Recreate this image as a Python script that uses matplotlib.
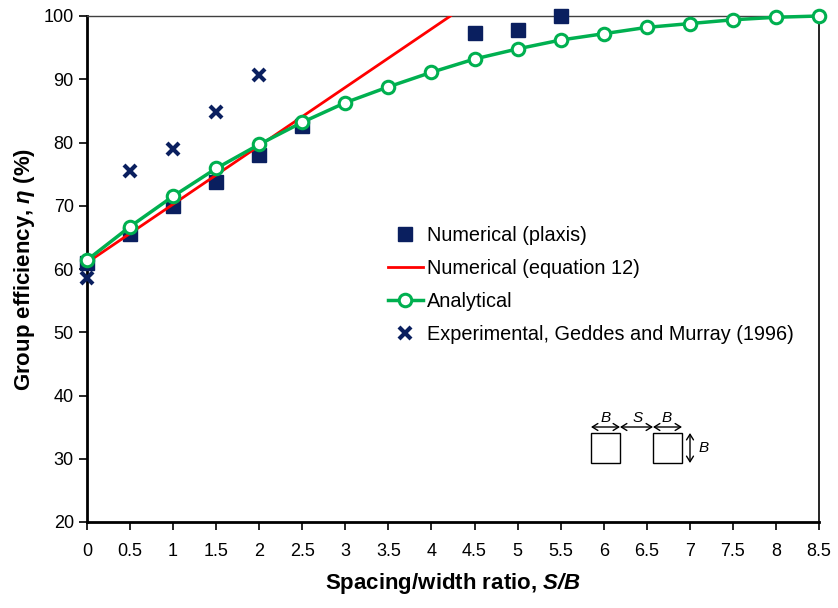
import matplotlib
matplotlib.use("Agg")
import matplotlib.pyplot as plt
from matplotlib.patches import Rectangle, FancyArrowPatch

plt.rcParams['font.family'] = ['Liberation Sans', 'DejaVu Sans']
plt.rcParams['mathtext.fontset'] = 'custom'
plt.rcParams['mathtext.rm'] = 'Liberation Sans'
plt.rcParams['mathtext.it'] = 'Liberation Sans:italic'
plt.rcParams['mathtext.bf'] = 'Liberation Sans:bold'
plt.rcParams['mathtext.bfit'] = 'Liberation Sans:bold:italic'

# Data
plaxis_x = [0, 0.5, 1, 1.5, 2, 2.5, 4.5, 5, 5.5]
plaxis_y = [60.9, 65.6, 69.9, 73.8, 78.0, 82.6, 97.3, 97.8, 100.0]

eq12_x = [0, 2.5, 4.22]
eq12_y = [61.0, 84.1, 100.0]

anal_x = [0, 0.5, 1, 1.5, 2, 2.5, 3, 3.5, 4, 4.5, 5, 5.5, 6, 6.5, 7, 7.5, 8, 8.5]
anal_y = [61.4, 66.7, 71.5, 75.9, 79.7, 83.2, 86.3, 88.8, 91.1, 93.2, 94.8, 96.2, 97.2, 98.2, 98.8, 99.4, 99.8, 100.0]

exp_x = [0, 0.5, 1, 1.5, 2]
exp_y = [58.5, 75.5, 78.9, 84.8, 90.6]

xticks = [0, 0.5, 1, 1.5, 2, 2.5, 3, 3.5, 4, 4.5, 5, 5.5, 6, 6.5, 7, 7.5, 8, 8.5]
xticklabels = ['0', '0.5', '1', '1.5', '2', '2.5', '3', '3.5', '4', '4.5', '5', '5.5', '6', '6.5', '7', '7.5', '8', '8.5']
yticks = [20, 30, 40, 50, 60, 70, 80, 90, 100]

W, H = 838, 608
fig = plt.figure(figsize=(W/100, H/100), dpi=100)
ax = fig.add_axes([87/W, 1-522/H, (819-87)/W, (522-16)/H])

navy = '#0A1F5F'
green = '#00B050'

ax.plot(plaxis_x, plaxis_y, linestyle='none', marker='s', markersize=9.5,
        color=navy, label='Numerical (plaxis)', zorder=3, clip_on=False)
ax.plot(eq12_x, eq12_y, color='#FF0000', linewidth=2, label='Numerical (equation 12)', zorder=4)
ax.plot(anal_x, anal_y, color=green, linewidth=2.5, marker='o', markersize=9,
        markerfacecolor='white', markeredgecolor=green, markeredgewidth=2.2,
        label='Analytical', zorder=5, clip_on=False)
ax.plot(exp_x, exp_y, linestyle='none', marker='x', markersize=9, markeredgewidth=3,
        color=navy, label='Experimental, Geddes and Murray (1996)', zorder=6, clip_on=False)

ax.set_xlim(0, 8.5)
ax.set_ylim(20, 100)
ax.set_xticks(xticks)
ax.set_xticklabels(xticklabels)
ax.set_yticks(yticks)
ax.tick_params(axis='both', labelsize=13, direction='out', length=6, width=1.2, color='black')
ax.tick_params(axis='x', pad=9)

for s in ['left', 'bottom']:
    ax.spines[s].set_linewidth(2)
    ax.spines[s].set_color('black')
ax.spines['top'].set_linewidth(1)
ax.spines['top'].set_color('#404040')
ax.spines['right'].set_linewidth(1.2)
ax.spines['right'].set_color('black')

ax.set_xlabel(r'Spacing/width ratio, $\mathbfit{S/B}$', fontsize=16, fontweight='bold', labelpad=8)
ax.set_ylabel(r'Group efficiency, $\mathbfit{\eta}$ (%)', fontsize=16, fontweight='bold', labelpad=5)

leg = ax.legend(loc='upper left', bbox_to_anchor=((380-87)/(819-87), (522-218)/(522-16)),
                frameon=False, fontsize=14.3, handlelength=1.75, handletextpad=0.2,
                labelspacing=0.7, borderaxespad=0)

# Inset sketch (figure pixel coordinates)
def fx(x):
    return x / W
def fy(y):
    return 1 - y / H

for x0 in (591, 653):
    fig.add_artist(Rectangle((fx(x0), fy(463)), 29/W, 30/H, transform=fig.transFigure,
                             fill=False, edgecolor='black', linewidth=1))
for (xa, xb) in [(591, 620), (620, 653), (653, 682)]:
    fig.add_artist(FancyArrowPatch((fx(xa), fy(427)), (fx(xb), fy(427)), transform=fig.transFigure,
                                   arrowstyle='<->,head_length=4,head_width=2.5', color='black',
                                   linewidth=1, shrinkA=0, shrinkB=0))
fig.add_artist(FancyArrowPatch((fx(690), fy(433)), (fx(690), fy(463)), transform=fig.transFigure,
                               arrowstyle='<->,head_length=4,head_width=2.5', color='black',
                               linewidth=1, shrinkA=0, shrinkB=0))
for (tx, ty, t) in [(606, 418, 'B'), (638, 418, 'S'), (667, 418, 'B'), (704, 448, 'B')]:
    fig.text(fx(tx), fy(ty), t, fontsize=11, fontstyle='italic', ha='center', va='center')

fig.savefig('out.png', dpi=100, facecolor='white')
